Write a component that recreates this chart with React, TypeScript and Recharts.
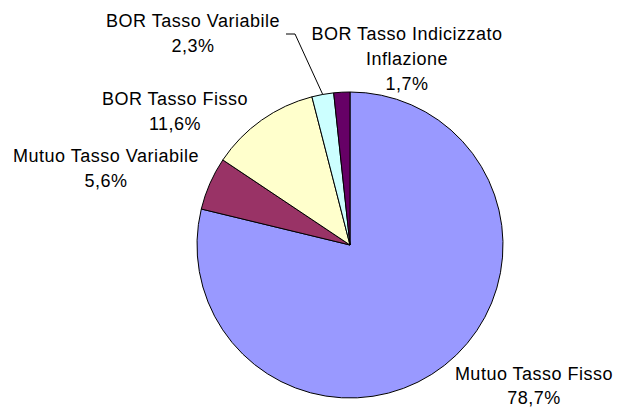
import React from 'react';
import { PieChart, Pie, Cell } from 'recharts';

const categories = [
  'Mutuo Tasso Fisso',
  'Mutuo Tasso Variabile',
  'BOR Tasso Fisso',
  'BOR Tasso Variabile',
  'BOR Tasso Indicizzato Inflazione',
];
const shares = [78.7, 5.6, 11.6, 2.3, 1.7];
const colors = ['#9999FF', '#993366', '#FFFFCC', '#CCFFFF', '#660066'];

// label placement relative to the pie centre (first baseline), and words on line 1
const labelLayout = [
  { dx: 184, dy: 135, wrap: 0 },
  { dx: -244, dy: -83, wrap: 0 },
  { dx: -175, dy: -140, wrap: 0 },
  { dx: -157, dy: -218, wrap: 0, leader: true },
  { dx: 57, dy: -205, wrap: 3 },
];

const data = categories.map((name, i) => ({ name, value: shares[i] }));

const RAD = Math.PI / 180;
const LINE_H = 25;

const renderLabel = (props: any) => {
  const { cx, cy, midAngle, outerRadius, index, name, value } = props;
  const lay = labelLayout[index];
  const words = String(name).split(' ');
  const lines = lay.wrap ? [words.slice(0, lay.wrap).join(' '), words.slice(lay.wrap).join(' ')] : [name];
  lines.push(Number(value).toFixed(1).replace('.', ',') + '%');
  const x = cx + lay.dx;
  const y = cy + lay.dy;

  let leader = null;
  if (lay.leader) {
    const ex = cx + outerRadius * Math.cos(-midAngle * RAD);
    const ey = cy + outerRadius * Math.sin(-midAngle * RAD);
    const sx = x + 93;
    const sy = y + 7;
    leader = (
      <polyline
        points={`${sx},${sy} ${sx + 9},${sy} ${ex},${ey}`}
        fill="none"
        stroke="#000"
        strokeWidth={1}
      />
    );
  }

  return (
    <g key={`lbl-${index}`}>
      {leader}
      {lines.map((t, i) => (
        <text
          key={i}
          x={x}
          y={y + i * (index === 0 ? 24 : LINE_H)}
          textAnchor="middle"
          fill="#000"
          fontSize={18}
          letterSpacing={0.5}
          fontFamily="'Liberation Sans', Arial, sans-serif"
        >
          {t}
        </text>
      ))}
    </g>
  );
};

export default function App() {
  return (
    <div style={{ position: 'absolute', left: 0, top: 0, width: 620, height: 409, background: '#fff' }}>
      <PieChart width={620} height={409} margin={{ top: 0, right: 0, bottom: 0, left: 0 }}>
        <Pie
          data={data}
          dataKey="value"
          nameKey="name"
          cx={350}
          cy={245}
          outerRadius={153}
          startAngle={90}
          endAngle={-270}
          stroke="#000"
          strokeWidth={1}
          label={renderLabel}
          labelLine={false}
          isAnimationActive={false}
        >
          {data.map((d, i) => (
            <Cell key={d.name} fill={colors[i]} />
          ))}
        </Pie>
      </PieChart>
    </div>
  );
}
